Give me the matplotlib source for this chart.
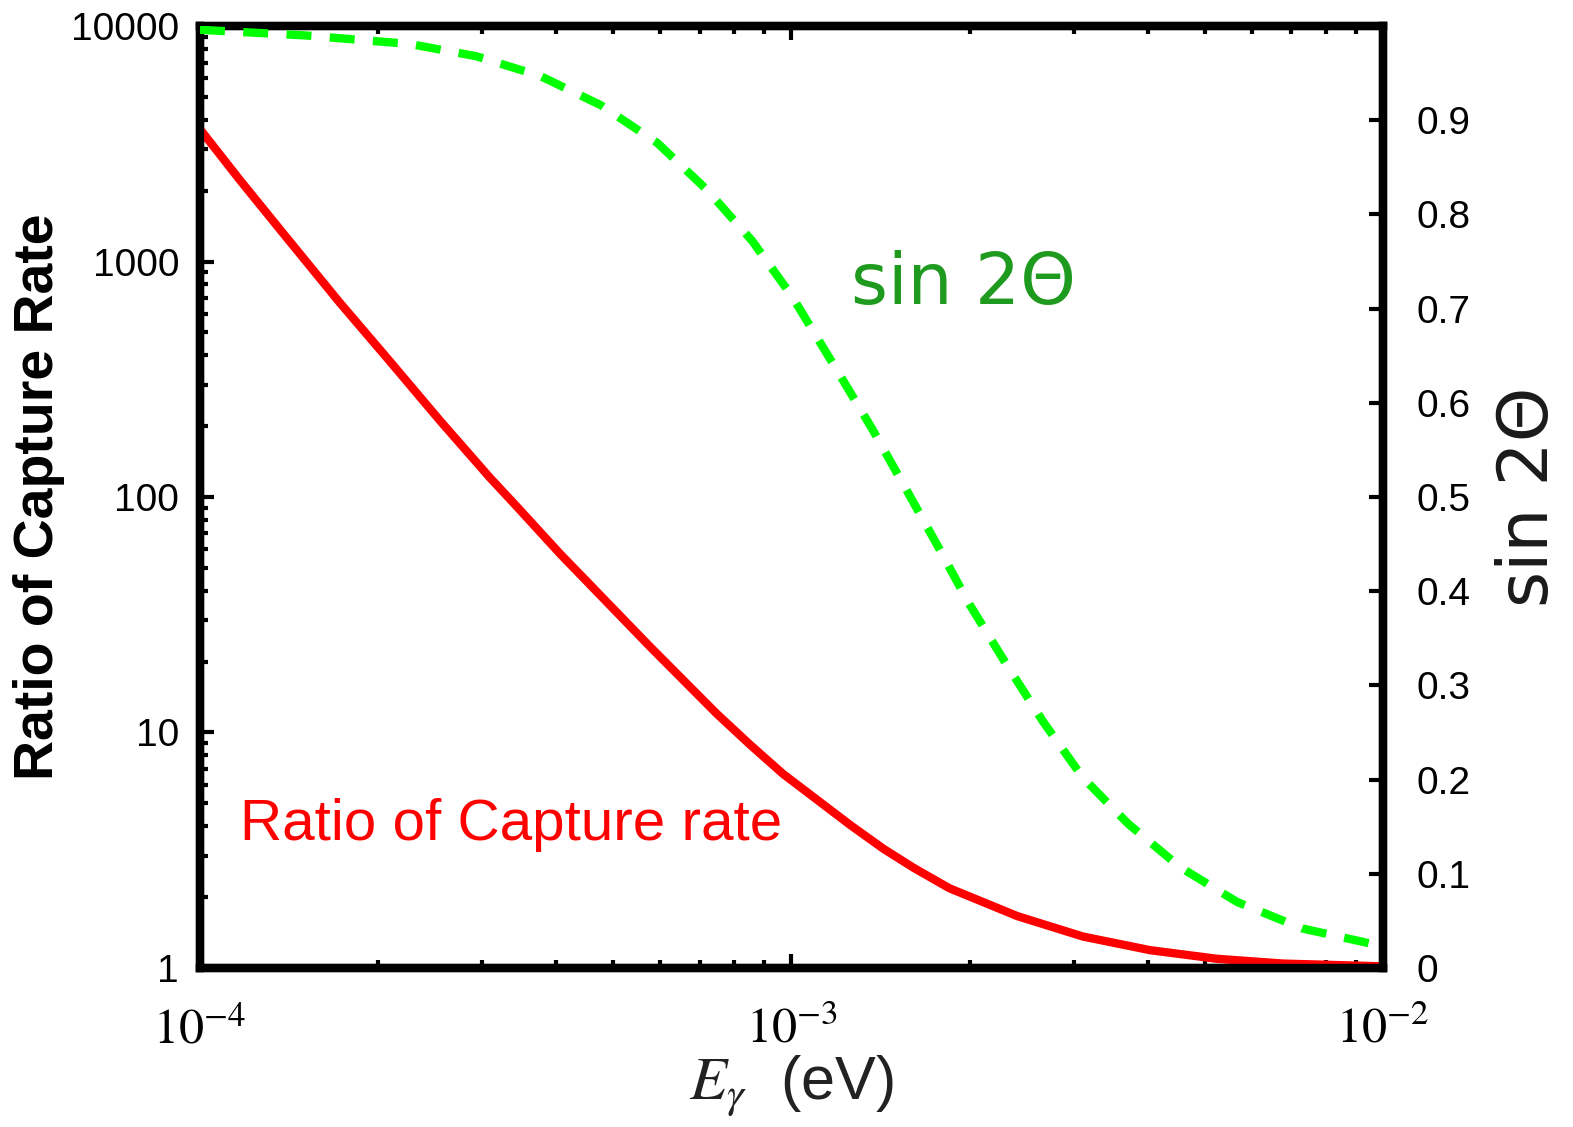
import numpy as np
import matplotlib
matplotlib.use('Agg')
import matplotlib.pyplot as plt
from matplotlib.ticker import FixedLocator, NullFormatter, LogLocator


# Data (photon energy in eV)
ratio_energy = [1.00e-4, 1.17e-4, 1.42e-4, 1.72e-4, 2.10e-4, 2.55e-4, 3.09e-4, 3.44e-4,
                4.06e-4, 4.44e-4, 5.77e-4, 7.48e-4, 8.51e-4, 9.67e-4, 1.26e-3, 1.43e-3,
                1.61e-3, 1.85e-3, 2.41e-3, 3.11e-3, 4.04e-3, 5.24e-3, 6.78e-3, 1.00e-2]
ratio_values = [3650, 2208, 1213, 673, 374, 210, 121, 90.6,
                57.5, 45.6, 23.1, 12.0, 8.88, 6.68, 4.03, 3.21,
                2.66, 2.18, 1.66, 1.36, 1.19, 1.094, 1.044, 1.016]

sin_energy = [1.00e-4, 1.51e-4, 2.26e-4, 2.93e-4, 3.76e-4, 4.76e-4, 5.93e-4, 7.20e-4,
              8.58e-4, 1.00e-3, 1.19e-3, 1.37e-3, 1.56e-3, 1.76e-3, 2.00e-3, 2.30e-3,
              2.66e-3, 3.11e-3, 3.71e-3, 4.54e-3, 5.67e-3, 7.30e-3, 1.00e-2]
sin_values = [0.996, 0.990, 0.981, 0.968, 0.947, 0.916, 0.876, 0.826,
              0.772, 0.714, 0.636, 0.572, 0.509, 0.450, 0.386, 0.324,
              0.262, 0.202, 0.153, 0.107, 0.070, 0.042, 0.023]

left_ticks = [1, 10, 100, 1000, 10000]
left_labels = ['1', '10', '100', '1000', '10000']
right_ticks = [0, 0.1, 0.2, 0.3, 0.4, 0.5, 0.6, 0.7, 0.8, 0.9]
right_labels = ['0', '0.1', '0.2', '0.3', '0.4', '0.5', '0.6', '0.7', '0.8', '0.9']
x_ticks = [1e-4, 1e-3, 1e-2]
x_labels = [r'$10^{-4}$', r'$10^{-3}$', r'$10^{-2}$']

plt.rcParams['font.family'] = ['Liberation Sans', 'DejaVu Sans']
plt.rcParams['mathtext.fontset'] = 'stix'

fig = plt.figure(figsize=(15.73, 11.27), dpi=100)
ax = fig.add_axes([0.1271, 0.1411, 0.7521, 0.8358])
ax2 = ax.twinx()

# red ratio curve on the log axis
ax.plot(ratio_energy, ratio_values, color='#ff0000', lw=6, solid_joinstyle='round', zorder=3)
ax.set_xscale('log')
ax.set_yscale('log')
ax.set_xlim(1e-4, 1e-2)
ax.set_ylim(1, 10000)

# green dashed sin 2Theta on the right axis
ax2.plot(sin_energy, sin_values, color='#00ff00', lw=6, ls=(0, (3, 2.2)), zorder=3)
ax2.set_ylim(0, 1.0)

# left axis ticks
ax.yaxis.set_major_locator(FixedLocator(left_ticks))
ax.set_yticklabels(left_labels)
ax.yaxis.set_minor_locator(LogLocator(base=10, subs=np.arange(2, 10)))
ax.yaxis.set_minor_formatter(NullFormatter())
ax.tick_params(axis='y', which='major', direction='in', length=10, width=3,
               labelsize=28, pad=15, right=False)
ax.tick_params(axis='y', which='minor', direction='in', length=6, width=3, right=False)

# x axis ticks (top and bottom)
ax.xaxis.set_major_locator(FixedLocator(x_ticks))
ax.set_xticklabels(x_labels)
ax.xaxis.set_minor_locator(LogLocator(base=10, subs=np.arange(2, 10)))
ax.xaxis.set_minor_formatter(NullFormatter())
ax.tick_params(axis='x', which='major', direction='in', length=10, width=3,
               labelsize=36, pad=28, top=True)
ax.tick_params(axis='x', which='minor', direction='in', length=6, width=3, top=True)

# right axis ticks
ax2.yaxis.set_major_locator(FixedLocator(right_ticks))
ax2.set_yticklabels(right_labels)
ax2.tick_params(axis='y', direction='in', length=10, width=3, labelsize=28, pad=24)

for a in (ax, ax2):
    for sp in a.spines.values():
        sp.set_linewidth(6)
        sp.set_color('black')

ax.set_ylabel('Ratio of Capture Rate', fontsize=40, fontweight='bold', labelpad=4)
ax.set_xlabel(r'$E_\gamma$  (eV)', fontsize=44, labelpad=0, color='#222222')
ax2.set_ylabel('sin 2Θ', fontsize=50, rotation=90, labelpad=18, color='#1a1a1a',
               family=['DejaVu Sans'])

ax.text(0.034, 0.136, 'Ratio of Capture rate', transform=ax.transAxes,
        fontsize=42, color='#ff0000', ha='left', va='baseline')
ax.text(0.550, 0.705, 'sin 2Θ', transform=ax.transAxes, fontsize=51,
        color='#1e9a1e', ha='left', va='baseline', family=['DejaVu Sans'])

fig.savefig('out.png', dpi=100, facecolor='white')
